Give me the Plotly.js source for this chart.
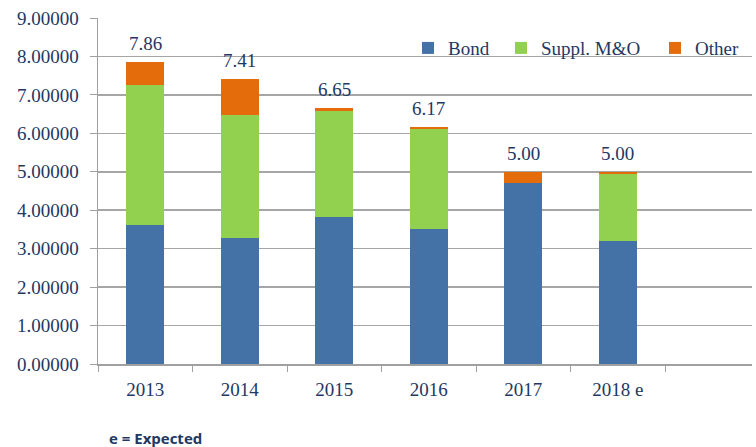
<!DOCTYPE html>
<html>
<head>
<meta charset="utf-8">
<script src="https://cdn.plot.ly/plotly-3.0.1.min.js"></script>
<style>html,body{margin:0;padding:0;background:#fff;}#chart{width:756px;height:447px;}</style>
</head>
<body>
<div id="chart"></div>
<script>
// Data
const categories = ["2013", "2014", "2015", "2016", "2017", "2018 e", " "];
const bond   = [3.62, 3.27, 3.82, 3.52, 4.71, 3.19, null];
const suppl  = [3.65, 3.22, 2.76, 2.58, 0.00, 1.76, null];
const other  = [0.59, 0.92, 0.07, 0.07, 0.29, 0.05, null];
const totalLabels = ["7.86", "7.41", "6.65", "6.17", "5.00", "5.00"];
const seriesNames = ["Bond", "Suppl. M&O", "Other"];
const colors = ["#4472a6", "#92d050", "#e46c0a"];

const navy = "#1f3864";
const serif = "Liberation Serif, Times New Roman, serif";

const traces = [bond, suppl, other].map((vals, i) => ({
  type: "bar",
  name: seriesNames[i],
  x: categories,
  y: vals,
  width: 0.4,
  marker: {color: colors[i], line: {width: 0}},
  legendwidth: [48, 109, 45][i],
  hoverinfo: "skip"
}));

const annotations = totalLabels.map((t, i) => ({
  x: i,
  y: (bond[i] || 0) + (suppl[i] || 0) + (other[i] || 0),
  xref: "x", yref: "y",
  text: t,
  showarrow: false,
  yanchor: "bottom",
  yshift: 6,
  font: {family: serif, size: 19, color: navy}
}));
annotations.push({
  xref: "paper", yref: "paper",
  x: 0.014, y: -0.214,
  xanchor: "left", yanchor: "middle",
  text: "<b>e = Expected</b>",
  showarrow: false,
  font: {family: "Open Sans, Liberation Sans, sans-serif", size: 15, color: navy}
});

const layout = {
  width: 756, height: 447,
  margin: {l: 98, r: 4, t: 18, b: 83},
  barmode: "stack",
  paper_bgcolor: "#fff",
  plot_bgcolor: "#fff",
  showlegend: true,
  legend: {
    orientation: "h",
    x: 0.474, y: 0.968,
    xanchor: "left", yanchor: "top",
    font: {family: serif, size: 19, color: navy},
    bgcolor: "rgba(0,0,0,0)",
    traceorder: "normal"
  },
  xaxis: {
    type: "category",
    range: [-0.5, 6.42],
    tickson: "boundaries",
    ticks: "outside",
    ticklen: 6,
    tickcolor: "#a0a0a0",
    showline: true,
    linecolor: "#a0a0a0",
    linewidth: 1.5,
    showgrid: false,
    ticklabelstandoff: 8,
    tickfont: {family: serif, size: 19, color: navy},
    fixedrange: true
  },
  yaxis: {
    range: [0, 9],
    dtick: 1,
    tickformat: ".5f",
    ticks: "outside",
    ticklen: 7,
    tickcolor: "#a0a0a0",
    showline: true,
    linecolor: "#a0a0a0",
    linewidth: 1.5,
    showgrid: true,
    gridcolor: "#a6a6a6",
    gridwidth: 1.5,
    zeroline: false,
    ticklabelstandoff: 7,
    tickfont: {family: serif, size: 19, color: navy},
    fixedrange: true
  },
  annotations: annotations
};

Plotly.newPlot("chart", traces, layout, {displayModeBar: false, staticPlot: true});
</script>
</body>
</html>
